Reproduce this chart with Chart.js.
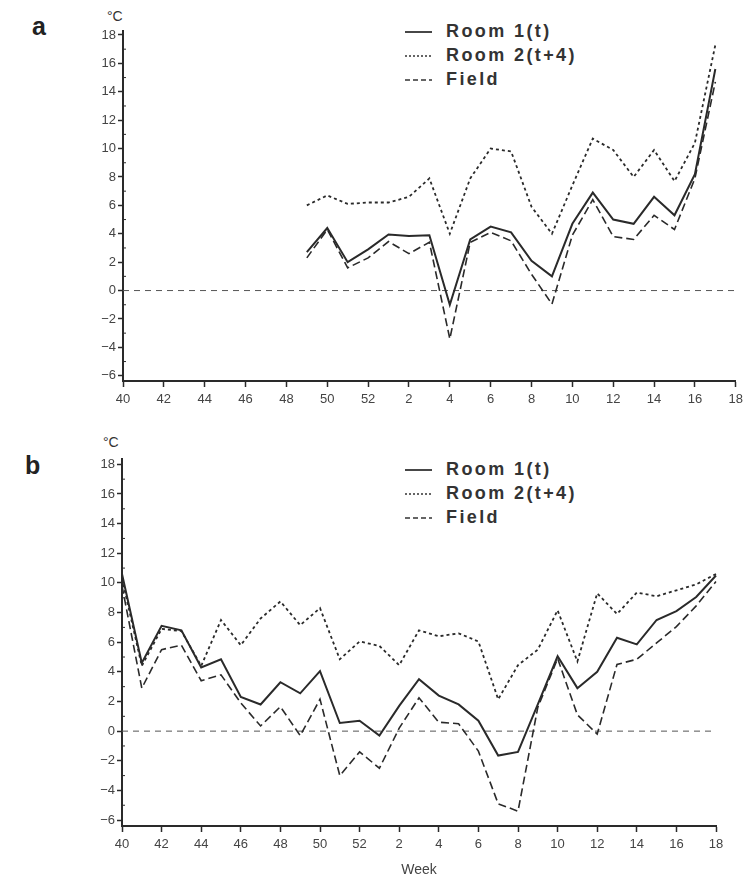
<!DOCTYPE html>
<html>
<head>
<meta charset="utf-8">
<script src="https://cdn.jsdelivr.net/npm/chart.js@4.4.1/dist/chart.umd.min.js"></script>
<style>
  body { margin: 0; width: 748px; height: 883px; background: #fff; position: relative; overflow: hidden; font-family: 'Liberation Sans', Arial, sans-serif; color: #333; }
  canvas { position: absolute; left: 0; }
  .tag { position: absolute; font: bold 25px 'Liberation Sans Narrow', 'Liberation Sans', sans-serif; color: #222; }
  .unit { position: absolute; font: 14px 'Liberation Sans', sans-serif; color: #333; }
  .leg { position: absolute; left: 405px; font: bold 18px 'Liberation Sans', Arial, sans-serif; letter-spacing: 2.4px; color: #333; }
  .leg div { height: 24px; line-height: 24px; white-space: nowrap; }
  .leg svg { vertical-align: middle; margin-right: 14px; }
</style>
</head>
<body>
<div class="tag" style="left:32px;top:12px">a</div>
<div class="unit" style="left:107px;top:8px">°C</div>
<div class="leg" style="top:19px">
  <div><svg width="27" height="4"><line x1="0" y1="2" x2="27" y2="2" stroke="#333" stroke-width="1.8"/></svg>Room 1(t)</div>
  <div><svg width="27" height="4"><line x1="0" y1="2" x2="27" y2="2" stroke="#333" stroke-width="1.6" stroke-dasharray="2,2"/></svg>Room 2(t+4)</div>
  <div><svg width="27" height="4"><line x1="0" y1="2" x2="27" y2="2" stroke="#333" stroke-width="1.6" stroke-dasharray="5,3"/></svg>Field</div>
</div>
<canvas id="chartA" width="748" height="420" style="top:0"></canvas>

<div class="tag" style="left:25px;top:451px">b</div>
<div class="unit" style="left:103px;top:434px">°C</div>
<div class="leg" style="top:457px">
  <div><svg width="27" height="4"><line x1="0" y1="2" x2="27" y2="2" stroke="#333" stroke-width="1.8"/></svg>Room 1(t)</div>
  <div><svg width="27" height="4"><line x1="0" y1="2" x2="27" y2="2" stroke="#333" stroke-width="1.6" stroke-dasharray="2,2"/></svg>Room 2(t+4)</div>
  <div><svg width="27" height="4"><line x1="0" y1="2" x2="27" y2="2" stroke="#333" stroke-width="1.6" stroke-dasharray="5,3"/></svg>Field</div>
</div>
<canvas id="chartB" width="748" height="463" style="top:420px"></canvas>

<script>
// weeks, from week 40 through the new year up to week 18
const weeks = [40, 41, 42, 43, 44, 45, 46, 47, 48, 49, 50, 51, 52,
  1, 2, 3, 4, 5, 6, 7, 8, 9, 10, 11, 12, 13, 14, 15, 16, 17, 18];

// y tick labels (°C)
const yTicks = [-6, -4, -2, 0, 2, 4, 6, 8, 10, 12, 14, 16, 18];

// panel a (starts at week 49, ends at week 17)
const aRoom1 = [null, null, null, null, null, null, null, null, null,
  2.7, 4.4, 2.0, 2.9, 3.95, 3.85, 3.9, -1.0, 3.6, 4.5, 4.1, 2.1, 1.0, 4.7, 6.9, 5.0, 4.7, 6.6, 5.3, 8.2, 15.6, null];
const aRoom2 = [null, null, null, null, null, null, null, null, null,
  6.0, 6.7, 6.1, 6.2, 6.2, 6.6, 7.9, 4.0, 7.9, 10.0, 9.8, 5.9, 4.0, 7.4, 10.7, 9.9, 8.0, 9.9, 7.7, 10.4, 17.3, null];
const aField = [null, null, null, null, null, null, null, null, null,
  2.3, 4.3, 1.6, 2.3, 3.45, 2.6, 3.4, -3.4, 3.4, 4.1, 3.5, 1.15, -0.95, 3.9, 6.4, 3.8, 3.6, 5.3, 4.3, 7.9, 14.7, null];

// panel b
const bRoom1 = [10.6, 4.6, 7.1, 6.8, 4.3, 4.85, 2.3, 1.8, 3.3, 2.55, 4.05, 0.55, 0.7,
  -0.3, 1.7, 3.5, 2.4, 1.8, 0.7, -1.65, -1.4, 1.8, 5.05, 2.9, 4.0, 6.3, 5.85, 7.5, 8.1, 9.05, 10.5];
const bRoom2 = [10.3, 4.4, 6.9, 6.75, 4.4, 7.5, 5.8, 7.6, 8.75, 7.15, 8.3, 4.85, 6.05,
  5.75, 4.45, 6.8, 6.4, 6.6, 6.05, 2.15, 4.45, 5.5, 8.15, 4.7, 9.3, 7.9, 9.35, 9.1, 9.5, 9.9, 10.6];
const bField = [9.8, 2.9, 5.5, 5.8, 3.4, 3.8, 1.9, 0.35, 1.65, -0.3, 2.15, -3.0, -1.4,
  -2.5, 0.2, 2.25, 0.6, 0.5, -1.35, -4.9, -5.4, 1.6, 4.9, 1.1, -0.2, 4.5, 4.85, 5.95, 7.05, 8.45, 10.1];

const ink = '#2a2a2a';
const tickFont = { family: "'Liberation Sans Narrow', 'Liberation Sans', Arial, sans-serif", size: 13 };

// dashed zero line and small minor ticks on the y axis
const extras = {
  id: 'extras',
  beforeDatasetsDraw(chart) {
    const { ctx, chartArea, scales } = chart;
    const y0 = scales.y.getPixelForValue(0);
    ctx.save();
    ctx.strokeStyle = '#555';
    ctx.lineWidth = 1;
    ctx.setLineDash([6, 5]);
    ctx.beginPath();
    ctx.moveTo(chartArea.left, y0);
    ctx.lineTo(chartArea.right, y0);
    ctx.stroke();
    ctx.setLineDash([]);
    ctx.strokeStyle = ink;
    ctx.beginPath();
    for (let v = -5; v <= 17; v += 2) {
      const py = scales.y.getPixelForValue(v);
      ctx.moveTo(chartArea.left, py);
      ctx.lineTo(chartArea.left + 3, py);
    }
    ctx.stroke();
    ctx.restore();
  }
};

function makeChart(id, r1, r2, fd, cfg) {
  const ctx = document.getElementById(id).getContext('2d');
  return new Chart(ctx, {
    type: 'line',
    data: {
      labels: weeks.map(String),
      datasets: [
        { label: 'Room 1(t)', data: r1, borderColor: ink, borderWidth: 2 },
        { label: 'Room 2(t+4)', data: r2, borderColor: ink, borderWidth: 1.8, borderDash: [3, 3] },
        { label: 'Field', data: fd, borderColor: ink, borderWidth: 1.6, borderDash: [8, 4] }
      ]
    },
    options: {
      responsive: false,
      animation: false,
      devicePixelRatio: 1,
      layout: { padding: { top: cfg.top, right: cfg.right, left: 0, bottom: 0 } },
      elements: { point: { radius: 0 }, line: { tension: 0 } },
      plugins: { legend: { display: false }, tooltip: { enabled: false } },
      scales: {
        x: {
          type: 'category',
          offset: false,
          grid: { drawOnChartArea: false, drawTicks: true, tickLength: 6, tickColor: ink, tickWidth: 1.5 },
          border: { color: ink, width: 2 },
          ticks: { autoSkip: false, maxRotation: 0, color: '#444', font: tickFont, padding: 5 },
          title: cfg.title ? { display: true, text: cfg.title, color: '#444', font: { family: tickFont.family, size: 14 }, padding: { top: 0, bottom: cfg.titlePad } } : { display: false },
          afterBuildTicks(scale) {
            scale.ticks = scale.ticks.filter(t => weeks[t.value] % 2 === 0);
          },
          afterFit(scale) { scale.height = cfg.xh; }
        },
        y: {
          min: cfg.min,
          max: cfg.max,
          grid: { drawOnChartArea: false, drawTicks: true, tickLength: 5, tickColor: ink, tickWidth: 1.5 },
          border: { color: ink, width: 2 },
          ticks: {
            color: '#444',
            font: tickFont,
            padding: 2,
            callback: v => (v < 0 ? '\u2212' + Math.abs(v) : String(v))
          },
          afterBuildTicks(scale) {
            scale.ticks = yTicks.map(v => ({ value: v }));
          },
          afterFit(scale) { scale.width = cfg.yw; }
        }
      }
    },
    plugins: [extras]
  });
}

makeChart('chartA', aRoom1, aRoom2, aField, { min: -6.37, max: 18.28, top: 31, right: 8, xh: 39, yw: 123 });
makeChart('chartB', bRoom1, bRoom2, bField, { min: -6.4, max: 18.36, top: 39, right: 32, xh: 57, yw: 122, title: 'Week', titlePad: 4 });
</script>
</body>
</html>
